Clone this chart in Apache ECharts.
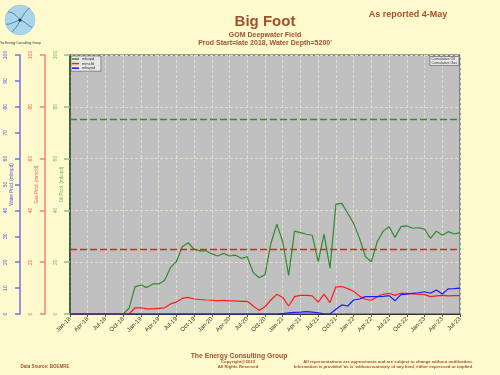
<!DOCTYPE html>
<html><head><meta charset="utf-8">
<script src="https://cdn.jsdelivr.net/npm/echarts@6/dist/echarts.min.js"></script>
<style>html,body{margin:0;padding:0;background:#FFFACD;}#c{width:500px;height:375px;}</style>
</head><body><div id="c"></div>
<script>
var monthNames = ['Jan','Feb','Mar','Apr','May','Jun','Jul','Aug','Sep','Oct','Nov','Dec'];
var years = ['18','19','20','21','22','23'];
var categories = [];
years.forEach(function(y){ monthNames.forEach(function(m){ categories.push(m+'-'+y); }); });
categories = categories.slice(0, 67); // Jan-18 .. Jul-23

var oilProd = [
  0,0,0,0,0,0,0,0,0,0,2.2,10.5,
  11.2,10.2,11.6,11.6,12.9,17.9,20.2,26,27.5,25,24.4,24.4,
  23.2,22.4,23.4,22.4,22.7,21.5,22.1,16,14,15.2,27.3,34.7,
  27.9,14.9,32,31.4,30.8,30.4,20.2,30.8,17.6,42.4,42.7,38.9,
  35,29.2,22.1,20.2,27.9,32,33.7,29.6,33.7,34,33.1,33.3,
  32.8,29.2,32,30.4,31.8,30.9,31.4
];
var gasProd = [
  0,0,0,0,0,0,0,0,0,0,0,2.4,
  2.4,2.0,2.0,2.2,2.4,3.9,4.6,6.0,6.4,5.8,5.6,5.4,
  5.3,5.1,5.3,5.1,5.1,4.9,4.9,3.1,1.4,2.8,5.4,7.6,
  6.4,3.1,6.7,7.2,7.2,7.0,4.6,7.7,4.4,10.5,10.6,9.8,
  8.8,6.9,5.7,5.3,6.7,7.6,8.0,7.2,8.0,8.0,7.8,7.7,
  7.5,6.7,7.0,7.2,7.0,7.1,7.1
];
var waterProd = [
  0,0,0,0,0,0,0,0,0,0,0,0,
  0,0,0,0,0,0,0,0,0,0,0,0,
  0,0,0,0,0,0,0,0,0,0,0,0,
  0.2,0.4,0.6,0.7,0.9,0.7,0.4,0.1,0,1.8,3.5,3.1,
  5.4,5.8,6.7,6.7,6.7,6.8,7.1,5.1,7.5,7.7,8.0,8.2,
  8.6,8.0,9.3,7.7,9.7,9.8,10
];
var cumOil = 75.3;
var cumGas = 25;

var FONT = 'Liberation Sans, Arial, sans-serif';
var BROWN = '#A0522D';
var chart = echarts.init(document.getElementById('c'), null, {renderer:'canvas'});

function txt(text, left, top, size, color, weight){
  return {text:text, left:left, top:top, textAlign:'center',
    textStyle:{fontSize:size, color:color, fontWeight:weight||'bold', fontFamily:FONT}, padding:0};
}

var option = {
  backgroundColor:'#FFFACD',
  textStyle:{fontFamily:FONT},
  animation:false,
  title:[
    txt('Big Foot', 265, 14, 15, BROWN),
    txt('GOM Deepwater Field', 265, 32, 7, BROWN),
    txt("Prod Start=late 2018, Water Depth=5200'", 265, 40, 7, BROWN),
    txt('As reported 4-May', 408, 10, 9, BROWN),
    txt('The Energy Consulting Group', 239, 352.5, 6.8, BROWN),
    txt('Copyright@2023', 238, 359.6, 4.3, BROWN),
    txt('All Rights Reserved', 238, 364.6, 4.3, BROWN),
    txt('Data Source: BOEMRE', 45, 364.5, 4.5, BROWN),
    txt('All representations are approximate and are subject to change without notification.', 388, 359.5, 4.3, BROWN),
    txt("Information is provided 'as is' without warranty of any kind, either expressed or implied", 383, 364.5, 4.3, BROWN),
    txt('The Energy Consulting Group', 20, 41.5, 3.2, '#333', 'normal'),
    {text:'Cumulative Oil\nCumulative Gas', right:41, top:56, padding:[1,2,1,2],
      backgroundColor:'#e6e6e6', borderColor:'#555', borderWidth:0.6,
      textStyle:{fontSize:3.6, lineHeight:4, color:'#333', fontWeight:'normal', fontFamily:FONT}}
  ],
  legend:{
    orient:'vertical', left:71, top:56, itemWidth:7, itemHeight:1.5, itemGap:0.6, icon:'rect',
    padding:[1,6,1,1], backgroundColor:'#e6e6e6', borderColor:'#555', borderWidth:0.6,
    textStyle:{fontSize:4, color:'#333', padding:[0,0,0,-2]},
    data:['mbopd','mmcfd','mbwpd']
  },
  grid:{left:70, right:40, top:55, bottom:61, containLabel:false, outerBoundsMode:'none',
    show:true, backgroundColor:'#C0C0C0', borderColor:'#444', borderWidth:1},
  xAxis:{
    type:'category', data:categories, boundaryGap:false,
    axisLine:{lineStyle:{color:'#333'}},
    axisTick:{interval:2, length:3, lineStyle:{color:'#555'}},
    axisLabel:{interval:2, rotate:45, fontSize:6, color:'#333', margin:4, fontFamily:FONT},
    splitLine:{show:true, interval:2, lineStyle:{color:'#e2dec8', type:[3,2], width:1}}
  },
  yAxis:[
    {type:'value', min:0, max:100, interval:20, position:'left', offset:0,
      name:'Oil Prod. (mbopd)', nameLocation:'middle', nameGap:6, nameMoveOverlap:false,
      nameTextStyle:{fontSize:4.5, color:'#6cb86c', fontFamily:FONT},
      axisLine:{show:true, lineStyle:{color:'#1f4a1f', width:1.5}},
      axisTick:{show:true, length:6, lineStyle:{color:'#86c486', width:1.5}},
      axisLabel:{fontSize:5, color:'#6cb86c', margin:12, rotate:90},
      splitLine:{show:true, lineStyle:{color:'#e2dec8', type:[3,2], width:1}}},
    {type:'value', min:0, max:100, interval:20, position:'left', offset:25,
      name:'Gas Prod. (mmcfd)', nameLocation:'middle', nameGap:6, nameMoveOverlap:false,
      nameTextStyle:{fontSize:4.5, color:'#f06050', fontFamily:FONT},
      axisLine:{show:true, lineStyle:{color:'#ff7f6f', width:1.5}},
      axisTick:{show:true, length:5, lineStyle:{color:'#ff7f6f', width:1.5}},
      axisLabel:{fontSize:5, color:'#f06050', margin:12, rotate:90},
      splitLine:{show:false}},
    {type:'value', min:0, max:100, interval:10, position:'left', offset:50,
      name:'Water Prod. (mbwpd)', nameLocation:'middle', nameGap:6, nameMoveOverlap:false,
      nameTextStyle:{fontSize:4.5, color:'#5050e0', fontFamily:FONT},
      axisLine:{show:true, lineStyle:{color:'#7070f0', width:1.5}},
      axisTick:{show:true, length:5, lineStyle:{color:'#7070f0', width:1.5}},
      axisLabel:{fontSize:5, color:'#5050e0', margin:12, rotate:90},
      splitLine:{show:false}}
  ],
  graphic:[
    {type:'circle', shape:{cx:20, cy:20, r:15}, style:{fill:'#a9d6ea', stroke:'#8cbfd8', lineWidth:0.5}},
    {type:'bezierCurve', shape:{x1:20,y1:20,x2:8,y2:12,cpx1:14,cpy1:12,cpx2:10,cpy2:12}, style:{stroke:'#2a4a5a', lineWidth:0.6, fill:null}},
    {type:'bezierCurve', shape:{x1:20,y1:20,x2:30,y2:8,cpx1:24,cpy1:14,cpx2:27,cpy2:9}, style:{stroke:'#2a4a5a', lineWidth:0.6, fill:null}},
    {type:'bezierCurve', shape:{x1:20,y1:20,x2:32,y2:27,cpx1:26,cpy1:22,cpx2:29,cpy2:27}, style:{stroke:'#2a4a5a', lineWidth:0.6, fill:null}},
    {type:'bezierCurve', shape:{x1:20,y1:20,x2:12,y2:32,cpx1:18,cpy1:26,cpx2:14,cpy2:30}, style:{stroke:'#2a4a5a', lineWidth:0.6, fill:null}},
    {type:'bezierCurve', shape:{x1:20,y1:20,x2:6,y2:24,cpx1:14,cpy1:22,cpx2:9,cpy2:25}, style:{stroke:'#2a4a5a', lineWidth:0.6, fill:null}},
    {type:'circle', shape:{cx:20, cy:20, r:1.5}, style:{fill:'#1a2a3a'}}
  ],
  series:[
    {name:'mbopd', type:'line', yAxisIndex:0, data:oilProd, symbol:'none', color:'#2e8b2e',
      lineStyle:{width:1.2, color:'#2e8b2e'},
      markLine:{silent:true, symbol:['none','none'], label:{show:false}, emphasis:{disabled:true},
        data:[{yAxis:cumOil, lineStyle:{color:'#2f8f2f', type:[7,3], width:1.3}}]}},
    {name:'mmcfd', type:'line', yAxisIndex:1, data:gasProd, symbol:'none', color:'#ff1a1a',
      lineStyle:{width:1.2, color:'#ff1a1a'},
      markLine:{silent:true, symbol:['none','none'], label:{show:false}, emphasis:{disabled:true},
        data:[{yAxis:cumGas, lineStyle:{color:'#e02020', type:[7,3], width:1.3}}]}},
    {name:'mbwpd', type:'line', yAxisIndex:2, data:waterProd, symbol:'none', color:'#1a1aff',
      lineStyle:{width:1.2, color:'#1a1aff'}}
  ]
};
chart.setOption(option);
</script></body></html>
